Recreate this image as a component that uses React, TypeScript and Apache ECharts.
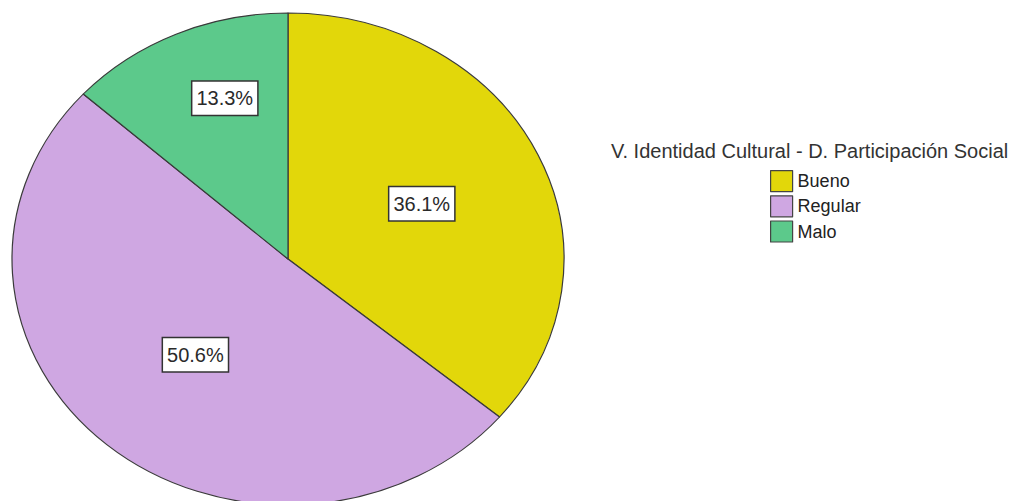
import React, { useEffect, useRef } from "react";
import * as echarts from "echarts";

const categories = ["Bueno", "Regular", "Malo"];
const percentages = [36.1, 50.6, 13.3];
const sliceColors = ["#E2D70A", "#CFA7E2", "#5CC98B"];
const legendTitle = "V. Identidad Cultural - D. Participación Social";

const W = 1016;
const H = 501;
const CX = 288;
const CY = 259;
const RX = 276;
const RY = 246;
const K = RY / RX;
const PIE_H = 580;
const FONT = "'Liberation Sans', Arial, sans-serif";

export default function App() {
  const pieRef = useRef<HTMLDivElement>(null);
  const overRef = useRef<HTMLDivElement>(null);

  useEffect(() => {
    const pieChart = echarts.init(pieRef.current!, null, { renderer: "svg" });
    pieChart.setOption({
      animation: false,
      series: [
        {
          type: "pie",
          center: [CX, CY / K],
          radius: RX,
          startAngle: 90,
          clockwise: true,
          silent: true,
          label: { show: false },
          labelLine: { show: false },
          itemStyle: { borderColor: "#3a3a3a", borderWidth: 1.2 },
          data: categories.map((name, i) => ({
            name,
            value: percentages[i],
            itemStyle: { color: sliceColors[i] },
          })),
        },
      ],
    });

    const shifts = [
      [6, -2],
      [0, 1],
      [-6, -46],
    ];
    const over = echarts.init(overRef.current!, null, { renderer: "svg" });
    over.setOption({
      animation: false,
      title: {
        text: legendTitle,
        left: 611,
        top: 140,
        padding: 0,
        textStyle: {
          fontFamily: FONT,
          fontSize: 20,
          fontWeight: "normal",
          color: "#333",
          lineHeight: 21,
        },
      },
      legend: {
        orient: "vertical",
        left: 770,
        top: 170,
        padding: 0,
        itemWidth: 22,
        itemHeight: 21,
        itemGap: 3,
        icon: "rect",
        selectedMode: false,
        textStyle: {
          fontFamily: FONT,
          fontSize: 18,
          color: "#222",
          lineHeight: 21,
        },
        data: categories.map((name, i) => ({
          name,
          itemStyle: {
            color: sliceColors[i],
            borderColor: "#444",
            borderWidth: 1.2,
            opacity: 1,
          },
        })),
      },
      series: [
        {
          type: "pie",
          center: [CX, CY],
          radius: RX,
          startAngle: 90,
          clockwise: true,
          silent: true,
          itemStyle: { color: "rgba(0,0,0,0)", borderWidth: 0 },
          labelLine: { show: false },
          label: {
            show: true,
            position: "inside",
            formatter: (p: any) => Number(p.value).toFixed(1) + "%",
            fontFamily: FONT,
            fontSize: 20,
            color: "#2a2a2a",
            backgroundColor: "#fff",
            borderColor: "#333",
            borderWidth: 1.5,
            padding: [6, 4, 5, 4],
            lineHeight: 22,
          },
          labelLayout: (p: any) => {
            const r = p.labelRect;
            const yc = r.y + r.height / 2;
            const s = shifts[p.dataIndex] || [0, 0];
            return { dx: s[0], dy: (yc - CY) * (K - 1) + s[1] };
          },
          data: categories.map((name, i) => ({
            name,
            value: percentages[i],
            itemStyle: { color: "rgba(0,0,0,0)" },
          })),
        },
      ],
    });

    return () => {
      pieChart.dispose();
      over.dispose();
    };
  }, []);

  return (
    <div
      style={{
        position: "fixed",
        left: 0,
        top: 0,
        width: W,
        height: H,
        overflow: "hidden",
        background: "#fff",
      }}
    >
      <div
        ref={pieRef}
        style={{
          position: "absolute",
          left: 0,
          top: 0,
          width: W,
          height: PIE_H,
          transform: `scaleY(${K})`,
          transformOrigin: "0 0",
        }}
      />
      <div
        ref={overRef}
        style={{ position: "absolute", left: 0, top: 0, width: W, height: H }}
      />
    </div>
  );
}
